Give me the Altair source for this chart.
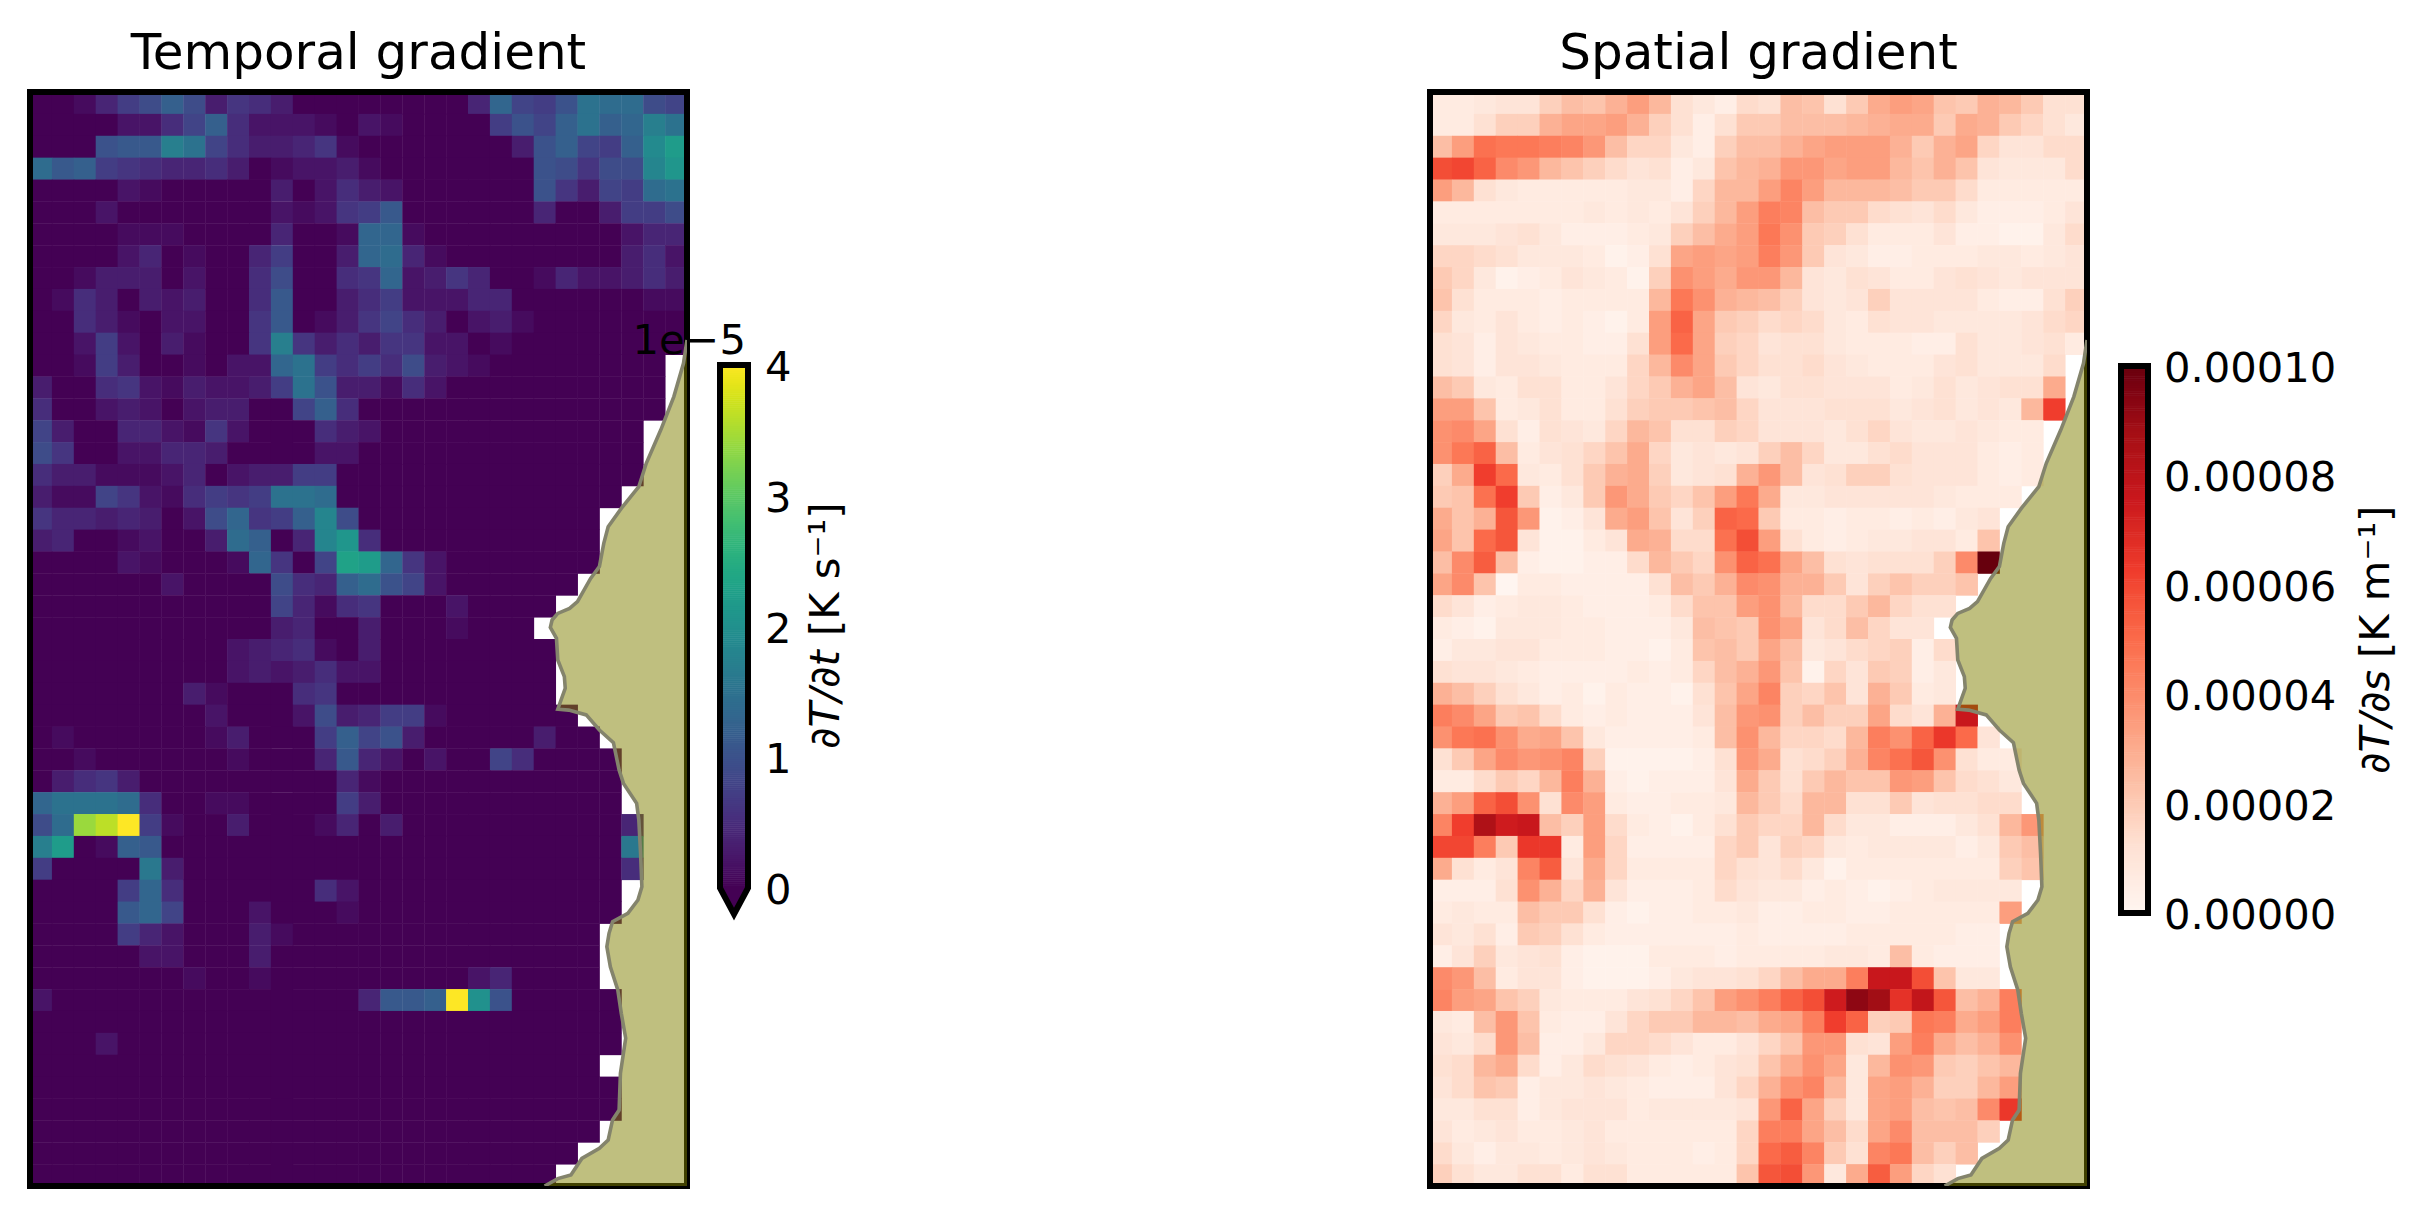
import altair as alt
import numpy as np
import pandas as pd

ALPHABET = "0123456789abcdefghijklmnopqrstuvwxyzABCDEFGHIJKLMNOPQRSTUVWXYZ"
# One string per grid row (top to bottom), one character per cell; '.' = no data.
# Temporal: character index x 0.1e-5 K/s
TEMPORAL_ROWS = [
"00147 9c936 53000 00000 4d87a fee98",
"00002 258c5 22210 21000 07a8c fcdhf",
"000ab bhf85 33461 00000 003ac 87cjm",
"ebc76 54453 01223 10000 000a9 699il",
"00002 10000 03025 32000 000a6 387ef",
"00020 00000 02126 7b000 00040 03779",
"00001 11000 04001 dd100 00000 00244",
"00002 40100 47003 de410 00000 00352",
"00133 30200 59005 6d236 40014 22353",
"01530 32300 5b003 57222 44000 00011",
"00531 02200 6b013 68530 23100 00000",
"00272 03100 6h635 36622 01000 00000",
"00173 00102 2df75 75932 10000 0000.",
"30056 21322 37fa3 31520 00000 0000.",
"50023 20233 008c5 00000 00000 0000.",
"83004 42162 00053 20000 00000 000..",
"96002 24430 00022 00000 00000 000..",
"53311 12402 33770 00000 00000 000..",
"31186 21576 7ffe0 00000 00000 00...",
"64434 3029d 67ci9 00000 00000 0....",
"34001 2003e c04il 50000 00000 0....",
"00002 10001 d608n md620 00000 0....",
"00000 02000 0954c ea820 00000 .....",
"00000 00000 08415 60002 0000. .....",
"00000 00000 03400 30001 000.. .....",
"00000 00002 34510 30000 0000. .....",
"00000 00002 32352 20000 0000. .....",
"00000 00310 00560 00000 0000. .....",
"00000 00020 00293 47710 00000 .....",
"01000 00013 0007c 8a300 00030 0....",
"00100 00001 0004b 42020 08500 00...",
"03563 00000 00004 10000 00000 00...",
"dfffe 50011 00007 30000 00000 00...",
"9eyAE 71003 00014 03000 00000 004..",
"hm01c b0000 00000 00000 00000 00g..",
"70000 g3000 00000 00000 00000 005..",
"00007 d5000 00052 00000 00000 00...",
"0000b d8000 20001 00000 00000 00...",
"00007 42000 31000 00000 00000 0....",
"00000 22000 30000 00000 00000 0....",
"00000 00100 10000 00000 24000 0....",
"20000 00000 00000 4bbcE ka000 00...",
"00000 00000 00000 00000 00000 00...",
"00020 00000 00000 00000 00000 00...",
"00000 00000 00000 00000 00000 0....",
"00000 00000 00000 00000 00000 00...",
"00000 00000 00000 00000 00000 00...",
"00000 00000 00000 00000 00000 0....",
"00000 00000 00000 00000 00000 .....",
"00000 00000 00000 00000 0000. .....",
]
# Spatial: character index x 2e-6 K/m
SPATIAL_ROWS = [
"33455 9cbeh d6427 6cb6a fhgba eda66",
"33699 egghe 9626a acccd effaf ea864",
"chonn mlic8 8429c ceghh heaeg 85577",
"tuqki db975 624bd eiigh hdbeb 54447",
"hd643 33334 428dd hlhdd dcaa7 33333",
"33333 33434 359dh mlcaa 76574 22235",
"44456 42223 49cfh nja96 33352 21147",
"88764 44312 6ghgh mia54 22333 44345",
"a8412 35431 9jhfi id546 53356 54555",
"b6333 23333 dnjed c9545 95555 32269",
"84353 23213 hqga9 78743 65544 44578",
"65254 33226 hpg98 56643 33226 44563",
"65255 43338 dkga8 66754 33356 4447.",
"ca436 63358 aegc5 46655 53464 566f.",
"hhb34 63369 aabc8 55566 64564 54dv.",
"jkg62 6548d b6698 55546 85445 433..",
"jnqc3 568bf 84545 9c844 67555 323..",
"9fvp4 36aef 9456e ic569 96555 323..",
"abova 24aif a8bhn f4455 55543 33...",
"fbesi 125fh b59qp a3323 32324 5....",
"gbps5 1135f e77ot h6323 44553 b....",
"ckrc2 11227 da8jq ogc65 6669k O....",
"gkb03 32222 6caek jeea5 9b99b .....",
"75234 43222 37bbh jd77a d866. .....",
"32144 43322 24cba jg57c 855.. .....",
"24455 33322 13bca gc457 8927. .....",
"65543 22223 238ce ib185 a924. .....",
"ec964 23132 216bg l98b5 ea34. .....",
"mkgab 73232 225ci j9c99 g75eC .....",
"jnojf gb422 223cj d887d mjqwp 5....",
"6agki jl911 1126i f679e losj6 33...",
"337a8 dme21 2225f a6adb bihb7 64...",
"ehqtj 6kh32 2334d a7dd6 6a566 77...",
"lvGBC c9h73 2136a 88d74 42224 6di..",
"uumaw w3h82 2228a 59843 44442 4ac..",
"f635l r5f83 33386 57413 33333 39b..",
"2226j e8e52 22375 44232 12344 44...",
"3433c aa621 22334 22332 23333 3h...",
"5462a 96322 22223 22223 33332 2....",
"25945 62111 33323 33344 3c322 2....",
"kic35 52111 24556 8cffm CCtb4 4....",
"lhgb9 43335 68bhj mqtBK IxDsc em...",
"43cib 32258 aaddc fgmvq 9anmf hm...",
"547ic 22488 75335 8bii6 5hmfc ej...",
"67df7 24765 32356 bfjg4 djia9 bd...",
"57ba2 44543 22258 ejld4 ghe99 dh...",
"44662 45553 44445 iqg94 ghcbc kw...",
"53453 34533 33338 mmgc7 gkccc 9....",
"74244 34543 33238 prla6 lnc9c .....",
"96446 63663 3333b sti4f rh86. .....",
]
# Coastline, in grid units (columns from left, rows from top)
COAST_X = [30, 29.84, 29.4, 28.8, 28.14, 27.8, 27.0, 26.4, 26.2, 26.0, 25.6, 25.0, 24.64, 24.1, 23.84, 23.76,
           24.04, 24.1, 24.4, 24.44, 24.1, 24.6, 25.4, 26.0, 26.64, 26.9, 27.1, 27.7, 27.8, 27.88, 27.94, 27.76,
           27.3, 26.6, 26.44, 26.34, 26.5, 26.84, 27.0, 27.2, 26.96, 26.9, 26.6, 26.4, 26.0, 25.2, 24.7, 24.1, 23.5]
COAST_Y = [11.33, 12.4, 13.92, 15.45, 16.97, 18.04, 19.03, 19.87, 20.63, 21.69, 22.23, 23.29, 23.6, 23.83, 24.13, 24.47,
           24.97, 25.96, 26.72, 27.25, 28.21, 28.25, 28.47, 29.16, 29.74, 30.99, 31.6, 32.51, 33.27, 34.8, 36.32, 36.93,
           37.54, 37.92, 38.45, 39.06, 39.98, 41.04, 42.11, 43.25, 44.85, 46.53, 46.98, 47.9, 48.28, 48.74, 49.5, 49.66, 50]

TEMPORAL_TICKS = [0, 1, 2, 3, 4]
TEMPORAL_LABELS = ["0", "1", "2", "3", "4"]
SPATIAL_TICKS = [0, 2e-5, 4e-5, 6e-5, 8e-5, 1e-4]
SPATIAL_LABELS = ["0.00000", "0.00002", "0.00004", "0.00006", "0.00008", "0.00010"]
REDS_DOMAIN = [0, 1.25e-5, 2.5e-5, 3.75e-5, 5e-5, 6.25e-5, 7.5e-5, 8.75e-5, 1e-4]
REDS_RANGE = ["#fff5f0", "#fee0d2", "#fcbba1", "#fc9272", "#fb6a4a", "#ef3b2c", "#cb181d", "#a50f15", "#67000d"]

FONT = "DejaVu Sans"
NCOL, NROW = 30, 50
PW, PH = 657, 1094
OVERLAP = 0.02  # each cell runs a hair under its neighbour so no seams show
XS = alt.Scale(domain=[0, NCOL], range=[0, PW], nice=False, zero=False)
YS = alt.Scale(domain=[0, NROW], range=[0, PH], nice=False, zero=False)


def grid(rows, unit):
    rec = []
    for r, s in enumerate(rows):
        s = s.replace(" ", "")
        if len(s) != NCOL:
            raise ValueError(f"row {r}: {len(s)}")
        for c, ch in enumerate(s):
            if ch != ".":
                rec.append(dict(c=c, c2=c + 1 + OVERLAP, r=r, r2=r + 1 + OVERLAP, v=ALPHABET.index(ch) * unit))
    return pd.DataFrame(rec)


def panel(rows, unit, scale, title):
    cells = alt.Chart(grid(rows, unit)).mark_rect().encode(
        x=alt.X("c:Q", scale=XS, axis=None), x2="c2:Q",
        y=alt.Y("r:Q", scale=YS, axis=None), y2="r2:Q",
        color=alt.Color("v:Q", scale=scale, legend=None),
    )
    frame = alt.Chart(pd.DataFrame(dict(a=[0], b=[NCOL], t=[0], u=[NROW]))).mark_rect(
        fillOpacity=0, stroke="black", strokeWidth=6, strokeJoin="miter"
    ).encode(x=alt.X("a:Q", scale=XS, axis=None), x2="b:Q", y=alt.Y("t:Q", scale=YS, axis=None), y2="u:Q")
    coast = pd.DataFrame(dict(x=COAST_X, y=COAST_Y, e=[NCOL] * len(COAST_X), i=range(len(COAST_X))))
    land = alt.Chart(coast).mark_area(orient="horizontal", color="olive", opacity=0.5, clip=True).encode(
        x=alt.X("x:Q", scale=XS, axis=None), x2="e:Q", y=alt.Y("y:Q", scale=YS, axis=None, sort=None))
    edge = alt.Chart(coast).mark_line(color="#84846c", strokeWidth=3.6, clip=True).encode(
        x=alt.X("x:Q", scale=XS, axis=None), y=alt.Y("y:Q", scale=YS, axis=None), order="i:Q")
    return alt.layer(cells, frame, land, edge).properties(
        width=PW, height=PH,
        title=alt.TitleParams(title, font=FONT, fontSize=50, fontWeight="normal", color="black",
                              anchor="middle", offset=10),
    )


def colorbar(width, xrange, yrange, vmax, scale, ticks, labels, label_x, tip, title_x, math, math_y, unit, unit_y, offset_text=None):
    ys = alt.Scale(domain=[0, vmax], range=yrange, nice=False, zero=False)
    xs = alt.Scale(domain=[0, 1], range=xrange, nice=False, zero=False)
    ramp = np.linspace(0, vmax, 257)
    rdf = pd.DataFrame(dict(v=ramp[:-1], v2=ramp[1:] + vmax * 0.001, a=0, b=1))
    layers = [alt.Chart(rdf).mark_rect().encode(
        x=alt.X("a:Q", scale=xs, axis=None), x2="b:Q",
        y=alt.Y("v:Q", scale=ys, axis=None), y2="v2:Q",
        color=alt.Color("v:Q", scale=scale, legend=None))]
    if tip is not None:
        tri = pd.DataFrame(dict(x=[0, 0.5, 1], y=[0, tip, 0], z=[0, 0, 0]))
        layers.append(alt.Chart(tri).mark_area(color="#440154").encode(
            x=alt.X("x:Q", scale=xs, axis=None), y=alt.Y("y:Q", scale=ys, axis=None), y2="z:Q"))
        ox, oy = [0, 1, 1, 0.5, 0, 0], [vmax, vmax, 0, tip, 0, vmax]
    else:
        ox, oy = [0, 1, 1, 0, 0], [vmax, vmax, 0, 0, vmax]
    out = pd.DataFrame(dict(x=ox, y=oy, i=range(len(ox))))
    layers.append(alt.Chart(out).mark_line(color="black", strokeWidth=6, strokeJoin="miter", strokeCap="square").encode(
        x=alt.X("x:Q", scale=xs, axis=None), y=alt.Y("y:Q", scale=ys, axis=None), order="i:Q"))
    tdf = pd.DataFrame(dict(v=ticks, s=labels))
    layers.append(alt.Chart(tdf).mark_text(font=FONT, fontSize=41.67, align="left", baseline="middle", dy=3, color="black").encode(
        x=alt.value(label_x), y=alt.Y("v:Q", scale=ys, axis=None), text="s:N"))
    layers.append(alt.Chart(pd.DataFrame(dict(s=[math]))).mark_text(
        font=FONT, fontSize=41.67, fontStyle="italic", angle=270, align="left", baseline="alphabetic", color="black"
    ).encode(x=alt.value(title_x), y=alt.value(math_y), text="s:N"))
    layers.append(alt.Chart(pd.DataFrame(dict(s=[unit]))).mark_text(
        font=FONT, fontSize=41.67, angle=270, align="left", baseline="alphabetic", color="black"
    ).encode(x=alt.value(title_x), y=alt.value(unit_y), text="s:N"))
    if offset_text:
        layers.append(alt.Chart(pd.DataFrame(dict(s=[offset_text]))).mark_text(
            font=FONT, fontSize=41.67, align="right", baseline="alphabetic", color="black"
        ).encode(x=alt.value(59), y=alt.value(262), text="s:N"))
    return alt.layer(*layers).properties(width=width, height=PH)


viridis = alt.Scale(scheme="viridis", domain=[0, 4], clamp=True)
reds = alt.Scale(domain=REDS_DOMAIN, range=REDS_RANGE, clamp=True)

p1 = panel(TEMPORAL_ROWS, 0.1, viridis, "Temporal gradient")
p2 = panel(SPATIAL_ROWS, 2e-6, reds, "Spatial gradient")
c1 = colorbar(743, [33, 61], [796, 273], 4, viridis, TEMPORAL_TICKS, TEMPORAL_LABELS, 78, -0.2, 152,
              "\u2202T/\u2202t", 657, "[K s\u207b\u00b9]", 544, offset_text="1e\u22125")
c2 = colorbar(325, [34, 61], [821, 274], 1e-4, reds, SPATIAL_TICKS, SPATIAL_LABELS, 77, None, 302,
              "\u2202T/\u2202s", 682, "[K m\u207b\u00b9]", 566)

chart = alt.hconcat(p1, c1, p2, c2, spacing=0, bounds="flush").resolve_scale(
    color="independent"
).properties(
    padding={"left": 19, "top": 21, "right": 0, "bottom": 0}, background="white"
).configure_view(stroke=None)

chart.save("out.html", embed_options={"renderer": "svg", "actions": False})
